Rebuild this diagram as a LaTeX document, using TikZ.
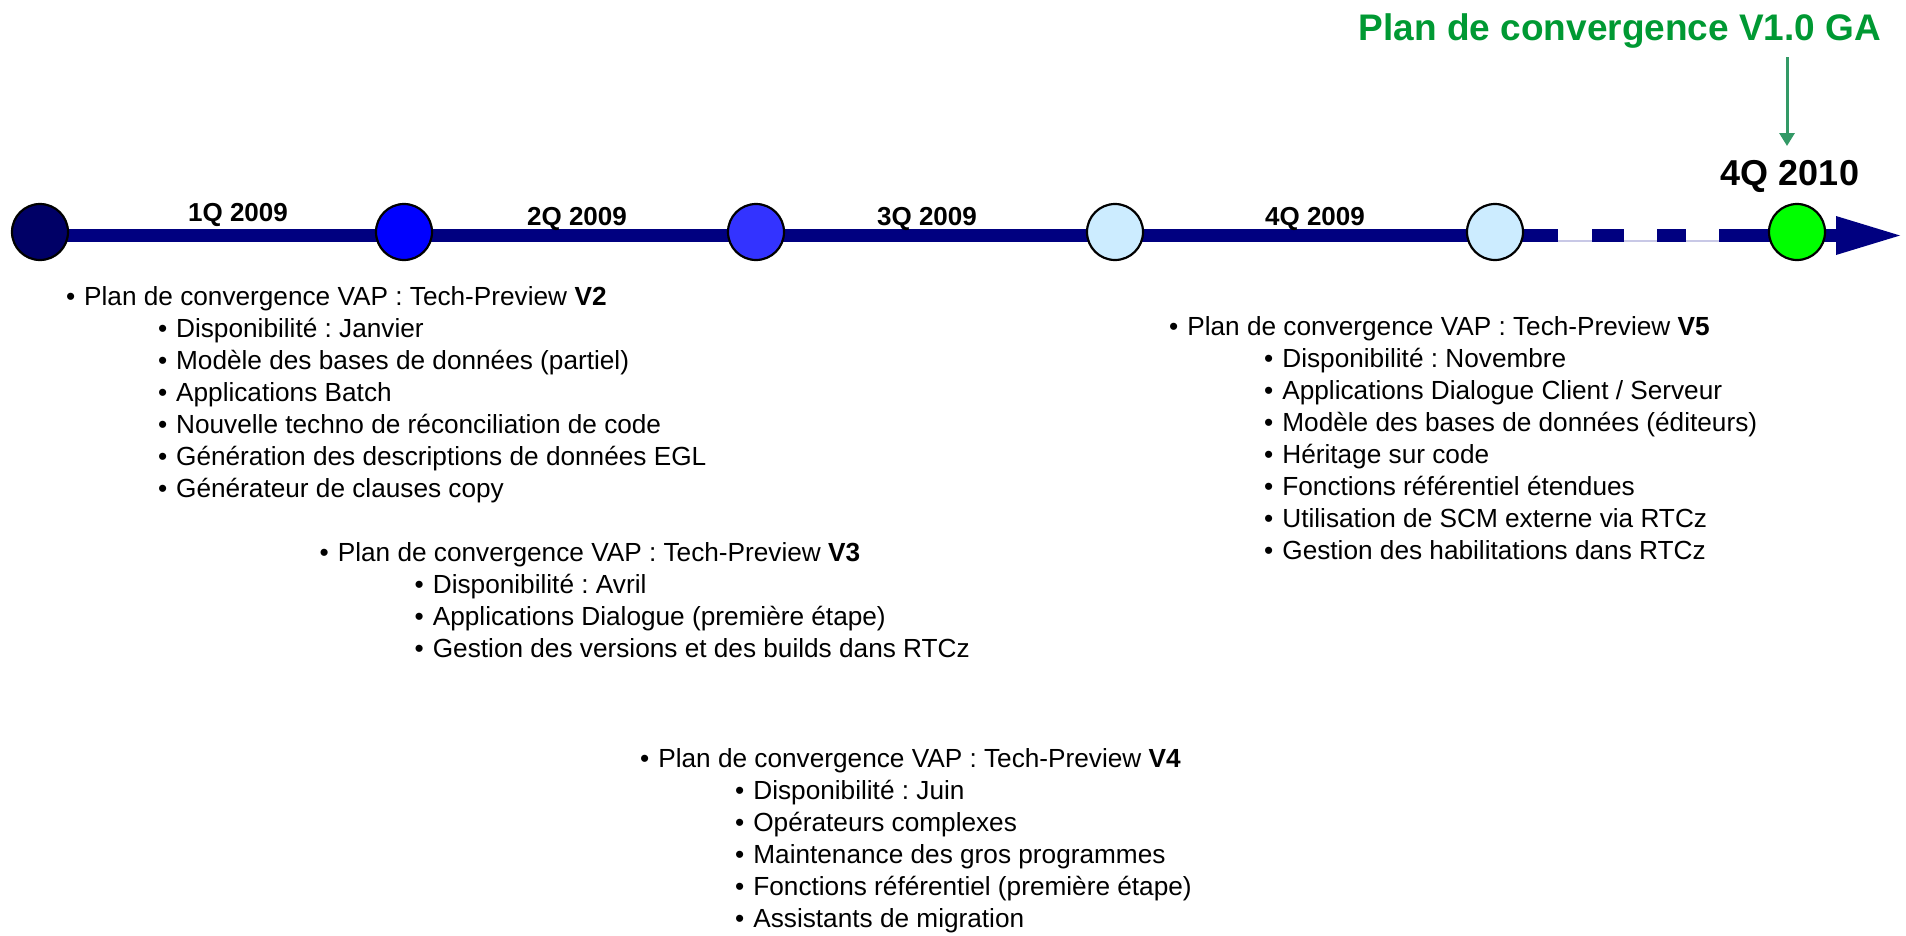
\documentclass[tikz,border=0pt]{standalone}
\usepackage{fontspec}
\setmainfont{Liberation Sans}
\usetikzlibrary{calc,arrows.meta}
\definecolor{barblue}{HTML}{000080}
\definecolor{navyfill}{HTML}{000066}
\definecolor{bluefill}{HTML}{0000FF}
\definecolor{midblue}{HTML}{3333FF}
\definecolor{paleblue}{HTML}{CCECFF}
\definecolor{gafill}{HTML}{00FF00}
\definecolor{titlegreen}{HTML}{009933}
\definecolor{arrowgreen}{HTML}{339966}
\definecolor{gapline}{HTML}{C8C8E6}
\frenchspacing
\newlength\subindent
\setlength\subindent{95pt}
\newcommand\lvA[1]{\textbullet\hspace{9pt}#1}
\newcommand\lvB[1]{\hspace{\subindent}\textbullet\hspace{9pt}#1}
\begin{document}
\begin{tikzpicture}[x=1pt,y=-1pt,
  milestone/.style={circle,draw=black,line width=2.2pt,minimum size=56pt,inner sep=0pt},
  bar/.style={draw=barblue,line width=13pt},
  quarter/.style={anchor=base,inner sep=0pt,font=\bfseries\fontsize{26}{30}\selectfont},
  blk/.style={anchor=base west,inner sep=0pt,font=\fontsize{26.2}{32}\selectfont},
]
\useasboundingbox (0,0) rectangle (1906,935);

% milestone positions along the timeline
\coordinate (p1) at (40,232);
\coordinate (p2) at (404,232);
\coordinate (p3) at (756,232);
\coordinate (p4) at (1115,232);
\coordinate (p5) at (1495,232);
\coordinate (p6) at (1797,232);
\coordinate (dashA) at (1558,235.5);
\coordinate (dashB) at (1592,235.5);
\coordinate (dashC) at (1624,235.5);
\coordinate (dashD) at (1657,235.5);
\coordinate (dashE) at (1686,235.5);
\coordinate (dashF) at (1719,235.5);
\coordinate (headbase) at (1836,235.5);
\coordinate (headtip) at (1900,235.5);

% timeline bar
\draw[gapline,line width=1.2pt] ($(dashA)+(0,5.5)$) -- ($(dashF)+(0,5.5)$);
\draw[bar] ([yshift=-3.5pt]p1) -- (dashA);
\draw[bar] (dashB) -- (dashC);
\draw[bar] (dashD) -- (dashE);
\draw[bar] (dashF) -- (headbase);
\fill[barblue] (headtip) -- ($(headbase)+(0,-19.5)$) -- ($(headbase)+(0,19.5)$) -- cycle;

% milestones
\node[milestone,fill=navyfill] (c1) at (p1) {};
\node[milestone,fill=bluefill] (c2) at (p2) {};
\node[milestone,fill=midblue] (c3) at (p3) {};
\node[milestone,fill=paleblue] (c4) at (p4) {};
\node[milestone,fill=paleblue] (c5) at (p5) {};
\node[milestone,fill=gafill] (c6) at (p6) {};

% quarter labels
\node[quarter] (q1) at (238,221) {1Q 2009};
\node[quarter] (q2) at (577,225) {2Q 2009};
\node[quarter] (q3) at (927,225) {3Q 2009};
\node[quarter] (q4) at (1315,225) {4Q 2009};
\node[anchor=base,inner sep=0pt,font=\bfseries\fontsize{36}{40}\selectfont] (q10) at (1790,185) {4Q 2010};

% general availability
\node[anchor=base,inner sep=0pt,text=titlegreen,font=\bfseries\fontsize{37}{42}\selectfont] (ga) at (1620,40) {Plan de convergence V1.0 GA};
\coordinate (gastart) at (1787,57);
\coordinate (gaend) at (1787,146);
\draw[arrowgreen,line width=3pt,-{Triangle[width=15pt,length=13pt]}] (gastart) -- (gaend);

% release contents
\node[blk] (v2) at (65.8,305) {\setlength\subindent{92pt}\begin{tabular}[t]{@{}l@{}}
\lvA{Plan de convergence VAP : Tech-Preview \textbf{V2}}\\
\lvB{Disponibilité : Janvier}\\
\lvB{Modèle des bases de données (partiel)}\\
\lvB{Applications Batch}\\
\lvB{Nouvelle techno de réconciliation de code}\\
\lvB{Génération des descriptions de données EGL}\\
\lvB{Générateur de clauses copy}
\end{tabular}};

\node[blk] (v3) at (319.5,561) {\begin{tabular}[t]{@{}l@{}}
\lvA{Plan de convergence VAP : Tech-Preview \textbf{V3}}\\
\lvB{Disponibilité : Avril}\\
\lvB{Applications Dialogue (première étape)}\\
\lvB{Gestion des versions et des builds dans RTCz}
\end{tabular}};

\node[blk] (v4) at (640,767) {\begin{tabular}[t]{@{}l@{}}
\lvA{Plan de convergence VAP : Tech-Preview \textbf{V4}}\\
\lvB{Disponibilité : Juin}\\
\lvB{Opérateurs complexes}\\
\lvB{Maintenance des gros programmes}\\
\lvB{Fonctions référentiel (première étape)}\\
\lvB{Assistants de migration}
\end{tabular}};

\node[blk] (v5) at (1169,335) {\begin{tabular}[t]{@{}l@{}}
\lvA{Plan de convergence VAP : Tech-Preview \textbf{V5}}\\
\lvB{Disponibilité : Novembre}\\
\lvB{Applications Dialogue Client / Serveur}\\
\lvB{Modèle des bases de données (éditeurs)}\\
\lvB{Héritage sur code}\\
\lvB{Fonctions référentiel étendues}\\
\lvB{Utilisation de SCM externe via RTCz}\\
\lvB{Gestion des habilitations dans RTCz}
\end{tabular}};
\end{tikzpicture}
\end{document}
